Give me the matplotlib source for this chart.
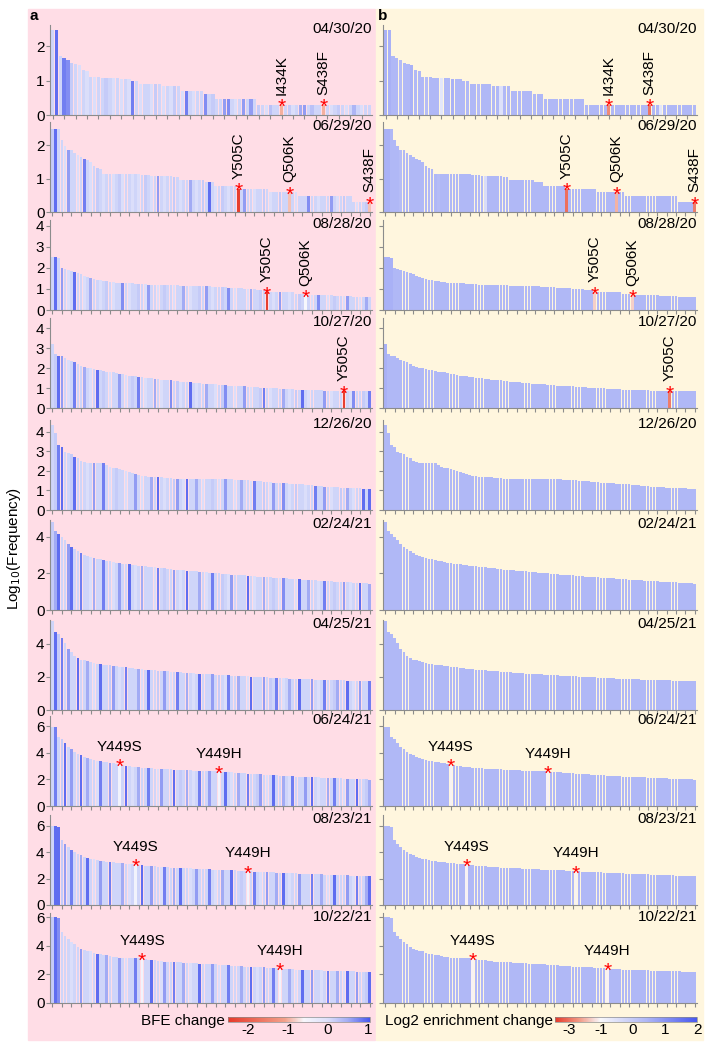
import numpy as np
import matplotlib
matplotlib.use('Agg')
import matplotlib.pyplot as plt
from matplotlib.colors import LinearSegmentedColormap, Normalize, FuncNorm
from matplotlib.cm import ScalarMappable
from matplotlib.patches import Rectangle

plt.rcParams['font.family'] = ['Liberation Sans', 'DejaVu Sans']
plt.rcParams['axes.unicode_minus'] = False

dates = ['04/30/20', '06/29/20', '08/28/20', '10/27/20', '12/26/20',
         '02/24/21', '04/25/21', '06/24/21', '08/23/21', '10/22/21']

# log10(frequency) of each mutation, sorted high -> low
freq_0430_20 = [2.48,2.48,1.72,1.65,1.6,1.52,1.48,1.45,1.3,1.28,
                1.12,1.12,1.12,1.08,1.08,1.08,1.08,1.08,1.04,1.04,
                1.04,0.98,0.98,0.9,0.9,0.9,0.9,0.9,0.9,0.84,
                0.84,0.84,0.84,0.84,0.7,0.7,0.7,0.7,0.7,0.7,
                0.6,0.6,0.6,0.48,0.48,0.48,0.48,0.48,0.48,0.48,
                0.48,0.48,0.48,0.48,0.3,0.3,0.3,0.3,0.3,0.3,
                0.3,0.3,0.3,0.3,0.3,0.3,0.3,0.3,0.3,0.3,
                0.3,0.3,0.3,0.3,0.3,0.3,0.3,0.3,0.3,0.3,
                0.3,0.3,0.3,0.3]
freq_0629_20 = [2.5,2.5,2.48,2.15,1.97,1.87,1.85,1.78,1.72,1.66,
                1.6,1.57,1.5,1.38,1.33,1.28,1.15,1.15,1.15,1.15,
                1.15,1.15,1.15,1.15,1.15,1.15,1.15,1.15,1.12,1.12,
                1.12,1.08,1.08,1.08,1.08,1.08,1.08,1.08,1.04,1.04,
                0.95,0.95,0.95,0.95,0.95,0.95,0.95,0.95,0.9,0.9,
                0.9,0.78,0.78,0.78,0.78,0.78,0.78,0.78,0.7,0.7,
                0.7,0.7,0.7,0.7,0.7,0.7,0.7,0.7,0.6,0.6,
                0.6,0.6,0.6,0.6,0.6,0.6,0.6,0.48,0.48,0.48,
                0.48,0.48,0.48,0.48,0.48,0.48,0.48,0.48,0.48,0.48,
                0.48,0.48,0.48,0.48,0.3,0.3,0.3,0.3,0.3,0.3]
freq_0828_20 = [2.5,2.5,2.48,2.0,1.95,1.9,1.85,1.8,1.75,1.7,
                1.62,1.55,1.5,1.48,1.45,1.42,1.4,1.38,1.35,1.32,
                1.3,1.3,1.3,1.28,1.28,1.28,1.25,1.25,1.25,1.25,
                1.2,1.2,1.2,1.2,1.2,1.18,1.18,1.18,1.18,1.18,
                1.15,1.15,1.15,1.15,1.12,1.12,1.12,1.12,1.12,1.12,
                1.08,1.08,1.08,1.08,1.08,1.04,1.04,1.04,1.04,1.04,
                1.0,1.0,1.0,1.0,0.95,0.95,0.95,0.85,0.85,0.85,
                0.85,0.85,0.85,0.85,0.85,0.85,0.78,0.78,0.78,0.7,
                0.7,0.7,0.7,0.7,0.7,0.7,0.7,0.7,0.65,0.65,
                0.65,0.65,0.65,0.65,0.6,0.6,0.6,0.6,0.6,0.6]
freq_1027_20 = [3.2,2.72,2.62,2.58,2.5,2.42,2.35,2.3,2.2,2.1,
                2.05,2.0,1.98,1.95,1.9,1.88,1.85,1.82,1.8,1.78,
                1.75,1.7,1.68,1.65,1.62,1.6,1.58,1.55,1.55,1.52,
                1.5,1.48,1.45,1.45,1.42,1.4,1.4,1.38,1.36,1.35,
                1.32,1.3,1.3,1.28,1.26,1.25,1.24,1.22,1.2,1.2,
                1.18,1.18,1.15,1.15,1.14,1.12,1.12,1.1,1.1,1.08,
                1.08,1.06,1.05,1.05,1.04,1.02,1.0,1.0,1.0,0.98,
                0.98,0.96,0.95,0.95,0.95,0.93,0.92,0.92,0.9,0.9,
                0.9,0.9,0.88,0.88,0.88,0.86,0.86,0.86,0.85,0.85,
                0.85,0.85,0.85,0.85,0.84,0.84,0.84,0.84,0.84,0.84]
freq_1226_20 = [4.35,3.95,3.33,3.23,2.95,2.9,2.88,2.72,2.65,2.52,
                2.45,2.42,2.42,2.4,2.4,2.4,2.38,2.3,2.2,2.15,
                2.15,2.12,2.05,1.98,1.95,1.88,1.85,1.8,1.75,1.72,
                1.7,1.7,1.7,1.7,1.68,1.65,1.65,1.62,1.6,1.6,
                1.6,1.6,1.6,1.58,1.58,1.58,1.58,1.58,1.58,1.58,
                1.58,1.57,1.57,1.57,1.56,1.56,1.56,1.55,1.55,1.54,
                1.52,1.52,1.5,1.5,1.5,1.48,1.45,1.42,1.42,1.4,
                1.4,1.38,1.38,1.36,1.35,1.35,1.35,1.33,1.32,1.3,
                1.28,1.27,1.25,1.23,1.22,1.2,1.2,1.18,1.18,1.17,
                1.15,1.14,1.12,1.12,1.1,1.1,1.1,1.08,1.08,1.05]
freq_0224_21 = [4.8,4.3,4.15,3.95,3.8,3.6,3.45,3.3,3.2,3.1,
                3.0,2.95,2.9,2.85,2.8,2.75,2.7,2.68,2.65,2.6,
                2.58,2.55,2.52,2.5,2.48,2.45,2.43,2.4,2.4,2.38,
                2.36,2.35,2.33,2.3,2.28,2.26,2.25,2.23,2.2,2.2,
                2.18,2.16,2.15,2.13,2.12,2.1,2.08,2.06,2.05,2.03,
                2.02,2.0,1.99,1.98,1.96,1.95,1.93,1.92,1.9,1.89,
                1.88,1.86,1.85,1.84,1.82,1.81,1.8,1.79,1.78,1.76,
                1.75,1.74,1.73,1.72,1.7,1.69,1.68,1.67,1.66,1.65,
                1.64,1.63,1.62,1.6,1.59,1.58,1.57,1.56,1.55,1.54,
                1.53,1.52,1.51,1.5,1.49,1.48,1.47,1.46,1.45,1.44]
freq_0425_21 = [5.4,4.7,4.6,4.35,4.05,3.7,3.5,3.3,3.15,3.05,
                3.0,2.95,2.9,2.85,2.8,2.78,2.75,2.72,2.7,2.68,
                2.65,2.62,2.6,2.58,2.55,2.53,2.5,2.48,2.46,2.45,
                2.43,2.42,2.4,2.38,2.37,2.35,2.34,2.32,2.3,2.29,
                2.28,2.26,2.25,2.24,2.22,2.21,2.2,2.19,2.18,2.16,
                2.15,2.14,2.13,2.12,2.1,2.09,2.08,2.07,2.06,2.05,
                2.04,2.03,2.02,2.01,2.0,1.99,1.98,1.97,1.96,1.95,
                1.94,1.93,1.92,1.91,1.9,1.9,1.89,1.88,1.87,1.86,
                1.86,1.85,1.84,1.84,1.83,1.82,1.82,1.81,1.8,1.8,
                1.79,1.79,1.78,1.78,1.77,1.77,1.76,1.76,1.75,1.75]
freq_0624_21 = [5.95,5.9,5.2,5.0,4.7,4.45,4.25,4.05,3.9,3.8,
                3.7,3.6,3.5,3.45,3.4,3.35,3.3,3.28,3.25,3.2,
                3.18,3.1,3.05,3.0,2.98,2.95,2.93,2.9,2.88,2.86,
                2.84,2.82,2.8,2.79,2.78,2.76,2.75,2.74,2.72,2.71,
                2.7,2.69,2.68,2.67,2.66,2.65,2.64,2.63,2.62,2.61,
                2.6,2.59,2.58,2.56,2.55,2.53,2.52,2.5,2.48,2.46,
                2.45,2.43,2.42,2.4,2.38,2.37,2.35,2.34,2.32,2.3,
                2.29,2.28,2.26,2.25,2.24,2.22,2.21,2.2,2.19,2.18,
                2.17,2.16,2.15,2.14,2.13,2.12,2.11,2.1,2.09,2.08,
                2.07,2.06,2.05,2.04,2.03,2.02,2.01,2.0,1.99,1.98]
freq_0823_21 = [6.0,5.95,5.9,4.9,4.6,4.35,4.15,4.0,3.85,3.75,
                3.65,3.58,3.5,3.45,3.4,3.36,3.32,3.28,3.25,3.22,
                3.2,3.17,3.15,3.12,3.1,3.08,3.05,3.02,3.0,2.98,
                2.96,2.94,2.92,2.9,2.88,2.86,2.85,2.83,2.82,2.8,
                2.79,2.78,2.77,2.76,2.75,2.74,2.72,2.71,2.7,2.69,
                2.68,2.67,2.66,2.65,2.64,2.63,2.62,2.61,2.6,2.59,
                2.58,2.56,2.55,2.53,2.52,2.5,2.49,2.48,2.47,2.46,
                2.45,2.44,2.43,2.42,2.41,2.4,2.39,2.38,2.37,2.36,
                2.35,2.34,2.33,2.32,2.31,2.3,2.29,2.28,2.27,2.26,
                2.25,2.24,2.23,2.22,2.21,2.2,2.19,2.18,2.17,2.16]
freq_1022_21 = [6.0,6.0,5.95,5.0,4.7,4.5,4.3,4.1,3.9,3.75,
                3.68,3.65,3.62,3.5,3.42,3.4,3.38,3.35,3.28,3.25,
                3.22,3.18,3.15,3.15,3.15,3.14,3.13,3.12,3.1,3.05,
                3.02,3.0,2.98,2.95,2.92,2.9,2.88,2.87,2.86,2.85,
                2.84,2.83,2.82,2.8,2.8,2.78,2.76,2.74,2.72,2.72,
                2.7,2.7,2.68,2.66,2.65,2.64,2.62,2.6,2.58,2.56,
                2.55,2.54,2.53,2.52,2.52,2.5,2.5,2.48,2.46,2.45,
                2.42,2.4,2.38,2.37,2.36,2.35,2.34,2.33,2.32,2.31,
                2.3,2.3,2.29,2.28,2.28,2.27,2.26,2.26,2.25,2.24,
                2.24,2.23,2.22,2.22,2.21,2.2,2.19,2.18,2.17,2.16]

# BFE change of each bar (panel a)
bfe_0430_20 = [0.1,0.9,0.1,0.8,0.7,0.2,0.1,0.0,0.1,0.0,
               0.1,0.0,0.1,0.1,0.2,0.1,0.0,0.1,0.0,0.1,
               0.0,0.8,0.1,0.0,0.1,0.1,0.0,0.2,0.1,0.0,
               0.1,0.0,0.2,0.1,0.0,0.8,0.1,0.0,0.1,0.1,
               0.7,0.1,0.2,0.1,0.1,0.6,0.7,0.1,0.0,0.1,
               0.6,0.1,0.6,0.1,0.2,0.1,0.0,0.3,0.1,0.1,
               -1.0,0.1,0.2,0.0,0.1,0.5,0.6,0.1,0.3,0.1,
               0.1,-1.0,0.1,0.0,0.1,0.2,0.1,0.0,0.1,0.4,
               0.1,0.0,0.1,0.1]
bfe_0629_20 = [0.2,0.9,0.1,0.1,0.0,0.6,0.1,0.1,0.0,0.1,
               0.8,0.1,0.0,0.1,0.2,0.1,0.0,0.1,0.1,0.0,
               0.1,0.2,0.0,0.1,0.1,0.0,0.1,0.0,0.1,0.2,
               0.1,0.0,0.1,0.6,0.1,0.0,0.1,0.1,0.2,0.1,
               0.0,0.1,0.1,0.5,0.1,0.0,0.1,0.2,0.1,0.9,
               0.1,0.0,0.1,0.2,0.1,0.0,0.1,0.1,-2.4,0.1,
               0.6,0.1,0.1,0.0,0.1,0.1,0.2,0.1,0.0,0.1,
               0.1,0.2,0.1,0.1,-0.9,0.1,0.0,0.1,0.1,0.1,
               0.7,0.1,0.1,0.0,0.1,0.1,0.1,0.6,0.1,0.0,
               0.1,0.2,0.1,0.1,0.1,0.0,0.1,0.1,0.2,-0.9]
bfe_0828_20 = [0.1,0.9,0.1,0.6,0.1,0.0,0.1,0.9,0.1,0.1,
               0.0,0.1,0.5,0.1,0.1,0.0,0.1,0.2,0.1,0.0,
               0.1,0.1,0.7,0.1,0.0,0.1,0.1,0.2,0.1,0.0,
               0.6,0.1,0.1,0.0,0.1,0.2,0.1,0.1,0.0,0.1,
               0.1,0.5,0.1,0.0,0.1,0.1,0.2,0.1,0.6,0.1,
               0.0,0.1,0.1,0.2,0.1,0.7,0.1,0.0,0.1,0.1,
               0.1,0.0,0.5,0.1,0.1,0.2,0.1,-2.4,0.1,0.0,
               0.1,0.6,0.1,0.1,0.0,0.1,0.1,0.2,0.1,-0.6,
               0.1,0.0,0.1,0.7,0.1,0.1,0.0,0.1,0.2,0.1,
               0.1,0.0,0.6,0.1,0.1,0.1,0.0,0.1,0.5,0.1]
bfe_1027_20 = [0.1,0.2,0.9,0.6,0.1,0.0,0.1,0.8,0.1,0.1,
               0.5,0.1,0.0,0.1,0.9,0.1,0.2,0.1,0.0,0.1,
               0.1,0.6,0.1,0.0,0.1,0.2,0.1,0.8,0.1,0.0,
               0.1,0.1,0.5,0.1,0.0,0.1,0.1,0.7,0.1,0.2,
               0.0,0.1,0.1,0.9,0.1,0.0,0.1,0.1,0.5,0.1,
               0.1,0.0,0.1,0.2,0.7,0.1,0.1,0.0,0.1,0.1,
               0.6,0.1,0.0,0.1,0.1,0.2,0.8,0.1,0.0,0.1,
               0.1,0.1,0.5,0.1,0.0,0.1,0.2,0.1,0.9,0.1,
               0.0,0.1,0.1,0.1,0.1,0.6,0.1,0.0,0.1,0.1,
               0.1,-2.4,0.1,0.0,0.7,0.1,0.1,0.2,0.1,0.8]
bfe_1226_20 = [0.1,0.2,0.8,0.9,0.1,0.1,0.2,0.9,0.1,0.1,
               0.1,0.0,0.1,0.6,0.1,0.1,0.8,0.1,0.0,0.1,
               0.2,0.1,0.1,0.0,0.1,0.1,0.6,0.1,0.0,0.1,
               0.1,0.5,0.1,0.9,0.1,0.0,0.1,0.1,0.2,0.6,
               0.1,0.0,0.9,0.1,0.1,0.5,0.1,0.0,0.1,0.1,
               0.2,0.1,0.0,0.1,0.6,0.1,0.1,0.0,0.1,0.5,
               0.1,0.1,0.0,0.8,0.1,0.1,0.2,0.1,0.0,0.6,
               0.1,0.1,0.7,0.1,0.0,0.1,0.2,0.1,0.1,0.0,
               0.1,0.1,0.8,0.1,0.1,0.6,0.1,0.0,0.1,0.1,
               0.2,0.1,0.5,0.1,0.0,0.1,0.1,0.9,0.1,0.9]
bfe_0224_21 = [0.2,0.5,0.9,0.1,0.1,0.6,0.9,0.1,0.1,0.8,
               0.1,0.1,0.0,0.5,0.1,0.1,0.8,0.1,0.1,0.0,
               0.1,0.6,0.1,0.1,0.9,0.1,0.0,0.1,0.5,0.1,
               0.1,0.1,0.0,0.8,0.1,0.2,0.1,0.1,0.6,0.1,
               0.0,0.1,0.9,0.1,0.1,0.1,0.5,0.1,0.0,0.1,
               0.8,0.1,0.1,0.2,0.1,0.0,0.6,0.1,0.1,0.1,
               0.1,0.9,0.1,0.0,0.1,0.1,0.5,0.1,0.1,0.2,
               0.1,0.0,0.7,0.1,0.1,0.1,0.0,0.9,0.1,0.1,
               0.5,0.1,0.1,0.0,0.1,0.8,0.1,0.1,0.2,0.1,
               0.1,0.6,0.1,0.0,0.1,0.1,0.9,0.1,0.1,0.5]
bfe_0425_21 = [0.1,0.9,0.2,0.8,0.1,0.6,0.1,0.1,0.9,0.1,
               0.1,0.5,0.1,0.0,0.1,0.9,0.1,0.1,0.2,0.6,
               0.1,0.0,0.1,0.8,0.1,0.1,0.1,0.5,0.0,0.1,
               0.9,0.1,0.1,0.2,0.1,0.6,0.1,0.0,0.1,0.8,
               0.1,0.1,0.5,0.1,0.0,0.1,0.9,0.1,0.1,0.1,
               0.6,0.1,0.2,0.1,0.0,0.8,0.1,0.1,0.5,0.1,
               0.1,0.0,0.9,0.1,0.1,0.1,0.6,0.1,0.2,0.1,
               0.8,0.1,0.0,0.1,0.5,0.1,0.1,0.9,0.1,0.1,
               0.1,0.6,0.1,0.0,0.1,0.8,0.1,0.1,0.2,0.5,
               0.1,0.1,0.9,0.1,0.0,0.1,0.6,0.1,0.1,0.8]
bfe_0624_21 = [0.1,0.8,0.1,0.2,0.9,0.1,0.6,0.1,0.1,0.9,
               0.1,0.5,0.1,0.1,0.0,0.8,0.1,0.1,0.6,0.1,
               0.1,-0.5,0.1,0.9,0.1,0.0,0.1,0.5,0.1,0.1,
               0.8,0.1,0.1,0.0,0.6,0.1,0.1,0.1,0.9,0.1,
               0.2,0.1,0.5,0.1,0.0,0.1,0.8,0.1,0.1,0.6,
               0.1,0.1,-0.5,0.1,0.9,0.1,0.0,0.1,0.5,0.1,
               0.1,0.8,0.1,0.1,0.2,0.6,0.1,0.0,0.1,0.9,
               0.1,0.1,0.5,0.1,0.0,0.8,0.1,0.1,0.1,0.6,
               0.1,0.9,0.1,0.0,0.1,0.1,0.5,0.1,0.8,0.1,
               0.1,0.0,0.6,0.1,0.1,0.9,0.1,0.1,0.2,0.5]
bfe_0823_21 = [0.1,0.9,0.9,0.2,0.6,0.1,0.8,0.1,0.1,0.5,
               0.1,0.9,0.1,0.0,0.1,0.6,0.1,0.1,0.8,0.1,
               0.1,0.1,0.5,0.1,0.0,0.1,-0.5,0.1,0.9,0.1,
               0.1,0.6,0.1,0.1,0.0,0.8,0.1,0.1,0.5,0.1,
               0.9,0.1,0.1,0.0,0.1,0.6,0.1,0.1,0.1,0.8,
               0.1,0.0,0.1,0.5,0.1,0.1,0.9,0.1,0.1,0.2,
               0.1,-0.5,0.1,0.8,0.1,0.0,0.1,0.6,0.1,0.1,
               0.5,0.1,0.9,0.1,0.0,0.1,0.1,0.6,0.1,0.1,
               0.1,0.8,0.1,0.1,0.5,0.1,0.0,0.1,0.9,0.1,
               0.1,0.1,0.6,0.1,0.0,0.8,0.1,0.1,0.5,0.9]
bfe_1022_21 = [0.2,0.9,0.7,0.1,0.1,0.1,0.0,0.1,0.1,0.6,
               0.1,0.1,0.0,0.1,0.9,0.1,0.1,0.5,0.1,0.1,
               0.1,0.6,0.1,0.0,0.1,0.1,0.8,0.1,-0.5,0.1,
               0.1,0.9,0.1,0.1,0.0,0.6,0.1,0.1,0.8,0.1,
               0.1,0.5,0.1,0.0,0.1,0.1,0.9,0.1,0.1,0.1,
               0.6,0.1,0.0,0.1,0.1,0.8,0.1,0.1,0.1,0.5,
               0.1,0.1,0.9,0.1,0.0,0.1,0.6,0.1,0.1,0.8,
               0.1,-0.5,0.1,0.1,0.5,0.1,0.0,0.1,0.9,0.1,
               0.1,0.6,0.1,0.1,0.0,0.1,0.8,0.1,0.1,0.5,
               0.1,0.0,0.9,0.1,0.1,0.6,0.1,0.1,0.2,0.9]

# Log2 enrichment change of each bar (panel b)
enr_0430_20 = [0.5,0.5,0.4,0.4,0.3,0.4,0.4,0.5,0.4,0.4,
               0.4,0.3,0.4,0.4,0.4,-0.6,0.4,0.4,0.5,0.4,
               0.4,0.4,0.4,0.4,0.4,0.3,0.4,0.4,0.4,0.4,
               0.4,-0.5,0.4,0.4,0.4,0.4,0.4,0.4,0.4,0.4,
               0.4,0.4,0.4,0.4,0.4,0.4,0.4,0.4,0.4,0.4,
               0.4,0.4,0.4,0.4,0.4,0.4,0.4,0.4,0.4,0.4,
               -2.6,0.4,0.4,0.4,0.4,0.4,0.4,0.4,0.4,0.4,
               0.4,-2.9,0.4,0.4,-0.6,0.4,0.4,0.4,0.4,0.4,
               0.4,0.4,0.4,0.4]
enr_0629_20 = [0.5,0.5,0.4,0.4,0.4,0.3,0.4,0.4,0.4,0.4,
               0.4,0.4,0.4,0.4,0.4,0.4,0.4,0.3,0.4,0.4,
               0.4,0.4,0.4,0.4,0.4,0.4,0.4,0.4,0.4,0.4,
               0.4,0.4,-0.4,0.4,0.4,0.4,0.4,0.4,0.4,0.4,
               0.4,0.4,0.4,0.4,0.4,0.4,0.4,0.4,0.4,0.4,
               0.4,0.4,0.4,0.4,0.4,0.4,0.4,0.4,-3.0,0.4,
               0.4,0.4,0.4,0.4,0.4,0.4,0.4,0.4,0.4,0.4,
               0.4,0.4,0.4,0.4,-2.0,0.4,0.4,0.4,0.4,0.4,
               0.4,0.4,0.4,0.4,0.4,0.4,0.4,0.4,0.4,0.4,
               0.4,0.4,0.4,0.4,0.4,0.4,0.4,0.4,0.4,-2.8]
enr_0828_20 = [0.5,0.5,0.5,0.4,0.4,0.4,0.4,0.4,0.4,0.4,
               0.4,0.4,0.4,0.4,0.4,0.3,0.4,0.4,0.4,0.4,
               0.4,0.4,0.4,0.4,0.4,0.4,0.4,0.4,0.4,0.4,
               0.4,0.4,0.4,0.4,0.4,0.4,0.4,0.4,0.4,0.4,
               0.4,0.4,0.4,0.4,0.4,0.4,0.4,0.4,0.4,0.4,
               0.4,0.4,0.4,0.4,0.4,0.4,0.4,0.4,0.4,0.4,
               0.4,0.4,0.4,0.4,0.4,0.4,0.4,-1.6,0.4,0.4,
               0.4,0.4,0.4,0.4,0.4,0.4,0.4,0.4,0.4,-1.6,
               0.4,0.4,0.4,0.4,0.4,0.4,0.4,0.4,0.4,0.4,
               0.4,0.4,0.4,0.4,0.4,0.4,0.4,0.4,0.4,0.4]
enr_1027_20 = [0.5,0.4,0.4,0.4,0.4,0.4,0.4,0.4,0.4,0.4,
               0.4,0.4,0.4,0.4,0.4,0.4,0.4,0.4,0.4,0.4,
               0.4,0.4,0.4,0.4,0.4,0.4,0.4,0.4,0.4,0.4,
               0.4,0.4,0.4,0.4,0.4,0.4,0.4,0.4,0.4,0.4,
               0.4,0.4,0.4,0.4,0.4,0.4,0.4,0.4,0.4,0.4,
               0.4,0.4,0.4,0.4,0.4,0.4,0.4,0.4,0.4,0.4,
               0.4,0.4,0.4,0.4,0.4,0.4,0.4,0.4,0.4,0.4,
               0.4,0.4,0.4,0.4,0.4,0.4,0.4,0.4,0.4,0.4,
               0.4,0.4,0.4,0.4,0.4,0.4,0.4,0.4,0.4,0.4,
               0.4,-2.8,0.4,0.4,0.4,0.4,0.4,0.4,0.4,0.4]
enr_1226_20 = [0.4,0.4,0.4,0.4,0.4,0.4,0.4,0.4,0.4,0.4,
               0.4,0.4,0.4,0.4,0.4,0.4,0.4,0.4,0.4,0.4,
               0.4,0.4,0.4,0.4,0.4,0.4,0.4,0.4,0.4,0.4,
               0.4,0.4,0.4,0.4,0.4,0.4,0.4,0.4,0.4,0.4,
               0.4,0.4,0.4,0.4,0.4,0.4,0.4,0.4,0.4,0.4,
               0.4,0.4,0.4,0.4,0.4,0.4,0.4,0.4,0.4,0.4,
               0.4,0.4,0.4,0.4,0.4,0.4,0.4,0.4,0.4,0.4,
               0.4,0.4,0.4,0.4,0.4,0.4,0.4,0.4,0.4,0.4,
               0.4,0.4,0.4,0.4,0.4,0.4,0.4,0.4,0.4,0.4,
               0.4,0.4,0.4,0.4,0.4,0.4,0.4,0.4,0.4,0.4]
enr_0224_21 = [0.4,0.4,0.4,0.4,0.4,0.4,0.4,0.4,0.4,0.4,
               0.4,0.4,0.4,0.4,0.4,0.4,0.4,0.4,0.4,0.4,
               0.4,0.4,0.4,0.4,0.4,0.4,0.4,0.4,0.4,0.4,
               0.4,0.4,0.4,0.4,0.4,0.4,0.4,0.4,0.4,0.4,
               0.4,0.4,0.4,0.4,0.4,0.4,0.4,0.4,0.4,0.4,
               0.4,0.4,0.4,0.4,0.4,0.4,0.4,0.4,0.4,0.4,
               0.4,0.4,0.4,0.4,0.4,0.4,0.4,0.4,0.4,0.4,
               0.4,0.4,0.4,0.4,0.4,0.4,0.4,0.4,0.4,0.4,
               0.4,0.4,0.4,0.4,0.4,0.4,0.4,0.4,0.4,0.4,
               0.4,0.4,0.4,0.4,0.4,0.4,0.4,0.4,0.4,0.4]
enr_0425_21 = [0.4,0.4,0.4,0.4,0.4,0.4,0.4,0.4,0.4,0.4,
               0.4,0.4,0.4,0.4,0.4,0.4,0.4,0.4,0.4,0.4,
               0.4,0.4,0.4,0.4,0.4,0.4,0.4,0.4,0.4,0.4,
               0.4,0.4,0.4,0.4,0.4,0.4,0.4,0.4,0.4,0.4,
               0.4,0.4,0.4,0.4,0.4,0.4,0.4,0.4,0.4,0.4,
               0.4,0.4,0.4,0.4,0.4,0.4,0.4,0.4,0.4,0.4,
               0.4,0.4,0.4,0.4,0.4,0.4,0.4,0.4,0.4,0.4,
               0.4,0.4,0.4,0.4,0.4,0.4,0.4,0.4,0.4,0.4,
               0.4,0.4,0.4,0.4,0.4,0.4,0.4,0.4,0.4,0.4,
               0.4,0.4,0.4,0.4,0.4,0.4,0.4,0.4,0.4,0.4]
enr_0624_21 = [0.4,0.4,0.4,0.4,0.4,0.4,0.4,0.4,0.4,0.4,
               0.4,0.4,0.4,0.4,0.4,0.4,0.4,0.4,0.4,0.4,
               0.4,-1.1,0.4,0.4,0.4,0.4,0.4,0.4,0.4,0.4,
               0.4,0.4,0.4,0.4,0.4,0.4,0.4,0.4,0.4,0.4,
               0.4,0.4,0.4,0.4,0.4,0.4,0.4,0.4,0.4,0.4,
               0.4,0.4,-1.1,0.4,0.4,0.4,0.4,0.4,0.4,0.4,
               0.4,0.4,0.4,0.4,0.4,0.4,0.4,0.4,0.4,0.4,
               0.4,0.4,0.4,0.4,0.4,0.4,0.4,0.4,0.4,0.4,
               0.4,0.4,0.4,0.4,0.4,0.4,0.4,0.4,0.4,0.4,
               0.4,0.4,0.4,0.4,0.4,0.4,0.4,0.4,0.4,0.4]
enr_0823_21 = [0.4,0.4,0.4,0.4,0.4,0.4,0.4,0.4,0.4,0.4,
               0.4,0.4,0.4,0.4,0.4,0.4,0.4,0.4,0.4,0.4,
               0.4,0.4,0.4,0.4,0.4,0.4,-1.1,0.4,0.4,0.4,
               0.4,0.4,0.4,0.4,0.4,0.4,0.4,0.4,0.4,0.4,
               0.4,0.4,0.4,0.4,0.4,0.4,0.4,0.4,0.4,0.4,
               0.4,0.4,0.4,0.4,0.4,0.4,0.4,0.4,0.4,0.4,
               0.4,-1.1,0.4,0.4,0.4,0.4,0.4,0.4,0.4,0.4,
               0.4,0.4,0.4,0.4,0.4,0.4,0.4,0.4,0.4,0.4,
               0.4,0.4,0.4,0.4,0.4,0.4,0.4,0.4,0.4,0.4,
               0.4,0.4,0.4,0.4,0.4,0.4,0.4,0.4,0.4,0.4]
enr_1022_21 = [0.4,0.4,0.4,0.4,0.4,0.4,0.4,0.4,0.4,0.4,
               0.4,0.4,0.4,0.4,0.4,0.4,0.4,0.4,0.4,0.4,
               0.4,0.4,0.4,0.4,0.4,0.4,0.4,0.4,-1.1,0.4,
               0.4,0.4,0.4,0.4,0.4,0.4,0.4,0.4,0.4,0.4,
               0.4,0.4,0.4,0.4,0.4,0.4,0.4,0.4,0.4,0.4,
               0.4,0.4,0.4,0.4,0.4,0.4,0.4,0.4,0.4,0.4,
               0.4,0.4,0.4,0.4,0.4,0.4,0.4,0.4,0.4,0.4,
               0.4,-1.1,0.4,0.4,0.4,0.4,0.4,0.4,0.4,0.4,
               0.4,0.4,0.4,0.4,0.4,0.4,0.4,0.4,0.4,0.4,
               0.4,0.4,0.4,0.4,0.4,0.4,0.4,0.4,0.4,0.4]

# highlighted mutations: (name, bar index)
mut_0430_20 = [('I434K', 60), ('S438F', 71)]
mut_0629_20 = [('Y505C', 58), ('Q506K', 74), ('S438F', 99)]
mut_0828_20 = [('Y505C', 67), ('Q506K', 79)]
mut_1027_20 = [('Y505C', 91)]
mut_1226_20 = []
mut_0224_21 = []
mut_0425_21 = []
mut_0624_21 = [('Y449S', 21), ('Y449H', 52)]
mut_0823_21 = [('Y449S', 26), ('Y449H', 61)]
mut_1022_21 = [('Y449S', 28), ('Y449H', 71)]

freqs = [freq_0430_20, freq_0629_20, freq_0828_20, freq_1027_20, freq_1226_20,
         freq_0224_21, freq_0425_21, freq_0624_21, freq_0823_21, freq_1022_21]
bfes = [bfe_0430_20, bfe_0629_20, bfe_0828_20, bfe_1027_20, bfe_1226_20,
        bfe_0224_21, bfe_0425_21, bfe_0624_21, bfe_0823_21, bfe_1022_21]
enrs = [enr_0430_20, enr_0629_20, enr_0828_20, enr_1027_20, enr_1226_20,
        enr_0224_21, enr_0425_21, enr_0624_21, enr_0823_21, enr_1022_21]
muts = [mut_0430_20, mut_0629_20, mut_0828_20, mut_1027_20, mut_1226_20,
        mut_0224_21, mut_0425_21, mut_0624_21, mut_0823_21, mut_1022_21]

# axis limits / ticks per row
ytop = [2.62, 2.7, 4.28, 4.5, 4.6, 4.9, 5.45, 6.75, 6.8, 6.3]
yticks = [[0, 1, 2], [0, 1, 2], [0, 1, 2, 3, 4], [0, 1, 2, 3, 4], [0, 1, 2, 3, 4],
          [0, 2, 4], [0, 2, 4], [0, 2, 4, 6], [0, 2, 4, 6], [0, 2, 4, 6]]
zero_px = [115, 212, 310, 408, 510, 610, 710, 806, 905, 1003]

# colour scales
cmap_a = LinearSegmentedColormap.from_list('bfe', [
    (0.0, '#e6392a'), (0.4, '#f3a08a'), (0.535, '#f7f7fc'),
    (0.704, '#dcdffa'), (0.732, '#d0d5f9'), (0.845, '#a3acf4'), (1.0, '#4858ef')])
norm_a = Normalize(vmin=-2.5, vmax=1.05)


def fwd(v):
    v = np.asarray(v, dtype=float)
    return np.where(v < -1, (v + 1) / 2, v + 1)


def inv(u):
    u = np.asarray(u, dtype=float)
    return np.where(u < 0, 2 * u - 1, u - 1)


cmap_b = LinearSegmentedColormap.from_list('enr', [
    (0.0, '#e6392a'), (0.17, '#f29a86'), (0.32, '#f8f8fb'),
    (0.638, '#b0b8f6'), (1.0, '#4858ef')])
norm_b = FuncNorm((fwd, inv), vmin=-3.85, vmax=2)

W, H = 715, 1050
fig = plt.figure(figsize=(W / 100, H / 100), dpi=100)


def box(x0, y0, x1, y1):
    return [x0 / W, 1 - y1 / H, (x1 - x0) / W, (y1 - y0) / H]


fig.add_artist(Rectangle((28 / W, 1 - 1040 / H), 347 / W, 1031 / H,
                         transform=fig.transFigure, color='#ffdde6', zorder=-5))
fig.add_artist(Rectangle((376 / W, 1 - 1040 / H), 327 / W, 1031 / H,
                         transform=fig.transFigure, color='#fff6de', zorder=-5))

grey = '#8c8c8c'

for i in range(len(dates)):
    h = freqs[i]
    n = len(h)
    x = np.arange(n)
    top = zero_px[i] - 90
    for col, (x0, x1, vals, cmap, norm) in enumerate(
            [(50, 372, bfes[i], cmap_a, norm_a), (383, 697, enrs[i], cmap_b, norm_b)]):
        ax = fig.add_axes(box(x0, top, x1, zero_px[i]))
        ax.patch.set_alpha(0)
        ax.bar(x, h, width=0.85, color=cmap(norm(np.array(vals))), linewidth=0)
        ax.set_xlim(-0.7, n - 0.3)
        ax.set_ylim(0, ytop[i])
        ax.set_xticks(np.arange(0, n, 3))
        ax.set_yticks(yticks[i])
        for s in ['top', 'right']:
            ax.spines[s].set_visible(False)
        for s in ['left', 'bottom']:
            ax.spines[s].set_color(grey)
            ax.spines[s].set_linewidth(0.8)
        ax.tick_params(axis='x', length=3, color=grey, labelbottom=False)
        ax.tick_params(axis='y', length=3, color=grey, labelsize=11, pad=1,
                       labelleft=(col == 0))
        ax.text(1.0, 1.03, dates[i], transform=ax.transAxes, ha='right', va='top',
                fontsize=11)
        for name, k in muts[i]:
            ax.annotate('*', xy=(k, h[k]), xytext=(0, -6), textcoords='offset points',
                        ha='center', va='baseline', fontsize=15, color='red')
            if i < 4:
                ax.annotate(name, xy=(k, h[k]), xytext=(0, 7), textcoords='offset points',
                            rotation=90, ha='center', va='bottom', fontsize=11)
            else:
                ax.annotate(name, xy=(k, h[k]), xytext=(0, 10), textcoords='offset points',
                            ha='center', va='baseline', fontsize=11)

fig.text(30 / W, 1 - 20 / H, 'a', fontsize=11, fontweight='bold')
fig.text(378 / W, 1 - 20 / H, 'b', fontsize=11, fontweight='bold')
fig.text(14 / W, 1 - 549 / H, 'Log$_{10}$(Frequency)', rotation=90,
         ha='center', va='center', fontsize=11)

# colour bars
cax_a = fig.add_axes(box(228, 1017, 370, 1022))
cb_a = fig.colorbar(ScalarMappable(norm=norm_a, cmap=cmap_a), cax=cax_a,
                    orientation='horizontal')
cb_a.set_ticks([-2, -1, 0, 1])
cax_b = fig.add_axes(box(555, 1017, 697, 1022))
cb_b = fig.colorbar(ScalarMappable(norm=norm_b, cmap=cmap_b), cax=cax_b,
                    orientation='horizontal')
cb_b.set_ticks([-3, -1, 0, 1, 2])
for cb in [cb_a, cb_b]:
    cb.outline.set_edgecolor(grey)
    cb.outline.set_linewidth(0.5)
    cb.ax.tick_params(length=0, labelsize=11, pad=1)
fig.text(225 / W, 1 - 1021 / H, 'BFE change', ha='right', va='center', fontsize=11)
fig.text(553 / W, 1 - 1021 / H, 'Log2 enrichment change', ha='right', va='center',
         fontsize=11)

fig.savefig('out.png', dpi=100)
